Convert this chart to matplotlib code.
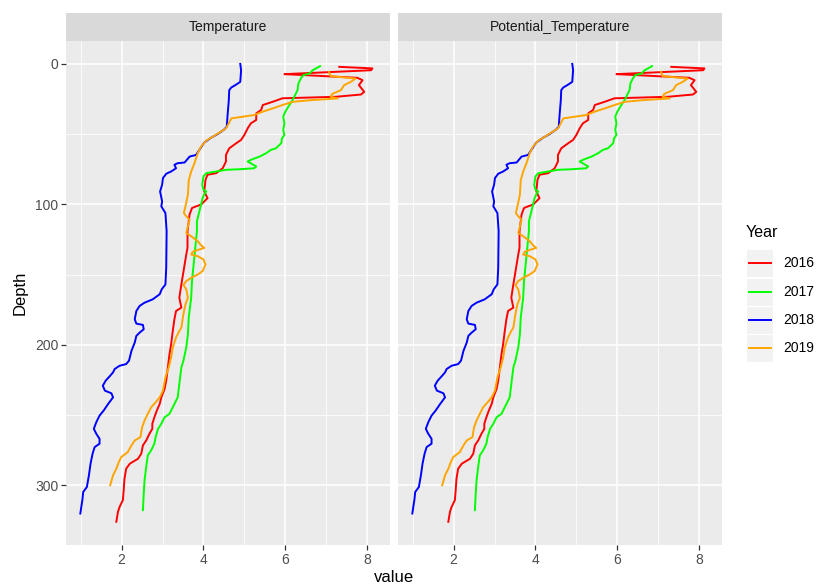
import matplotlib
matplotlib.use("Agg")
import matplotlib.pyplot as plt
from matplotlib.patches import Rectangle
from matplotlib.lines import Line2D

plt.rcParams["font.family"] = ["Liberation Sans", "DejaVu Sans"]

panels = ["Temperature", "Potential_Temperature"]
years = ["2016", "2017", "2018", "2019"]
colors = {"2016": "#FF0000", "2017": "#00FF00", "2018": "#0000FF", "2019": "#FFA500"}

# profiles: (value, depth) pairs, surface downward
depth_2016 = [2.1, 3.2, 4.5, 7.3, 7.8, 9.9, 11.6, 15.1, 19.9, 21.8, 23.4, 24.5, 27.0, 29.3,
              32.8, 35.2, 39.9, 42.3, 45.9, 50.6, 54.1, 56.5, 60.1, 64.8, 69.5, 74.3, 77.8,
              78.9, 82.5, 90.8, 95.6, 100.2, 101.4, 102.6, 107.3, 119.1, 131.0, 135.7, 142.8,
              149.9, 156.9, 166.5, 173.5, 175.9, 181.8, 190.1, 199.5, 206.6, 216.1, 225.5,
              231.4, 237.4, 242.1, 246.8, 251.6, 256.2, 259.8, 263.3, 268.1, 271.6, 277.5,
              281.1, 284.6, 288.2, 295.2, 303.5, 310.6, 315.4, 318.9, 326.0]
temp_2016 = [7.32, 8.13, 8.10, 5.98, 6.34, 7.76, 7.89, 7.80, 7.93, 7.85, 7.24, 5.93, 5.69, 5.45,
             5.41, 5.29, 5.29, 5.16, 5.08, 5.00, 4.92, 4.80, 4.63, 4.55, 4.55, 4.47, 4.31,
             4.10, 4.05, 4.02, 4.10, 3.94, 3.82, 3.72, 3.66, 3.61, 3.61, 3.58, 3.54,
             3.50, 3.46, 3.41, 3.46, 3.33, 3.29, 3.25, 3.21, 3.17, 3.13, 3.09,
             3.05, 2.97, 2.93, 2.86, 2.80, 2.75, 2.75, 2.68, 2.60, 2.52, 2.48,
             2.40, 2.20, 2.11, 2.07, 2.05, 2.03, 1.95, 1.91, 1.87]

depth_2017 = [1.6, 4.5, 6.9, 8.0, 10.4, 14.0, 18.7, 22.2, 25.7, 29.3, 34.0, 37.6, 42.3, 47.0,
              50.6, 53.0, 56.5, 60.1, 61.2, 63.6, 66.0, 68.3, 69.5, 73.0, 74.3, 75.0, 75.4,
              77.8, 80.1, 86.0, 89.6, 90.8, 92.7, 95.5, 100.2, 105.0, 112.1, 119.1, 131.0,
              142.8, 154.6, 166.5, 175.9, 180.6, 192.4, 201.9, 211.3, 216.1, 227.9, 237.4,
              242.1, 249.1, 251.6, 256.2, 259.8, 265.7, 270.4, 275.2, 278.7, 287.0, 296.5,
              305.9, 317.7]
temp_2017 = [6.85, 6.67, 6.59, 6.44, 6.38, 6.32, 6.30, 6.24, 6.18, 6.10, 6.00, 5.95, 5.98, 5.95,
             5.98, 5.92, 5.90, 5.77, 5.65, 5.53, 5.37, 5.16, 5.08, 5.29, 5.24, 4.88, 4.55,
             4.07, 4.00, 3.97, 4.00, 4.07, 4.02, 3.98, 3.94, 3.90, 3.84, 3.84, 3.80,
             3.76, 3.72, 3.70, 3.66, 3.64, 3.62, 3.58, 3.51, 3.46, 3.41, 3.37,
             3.29, 3.17, 3.05, 2.97, 2.89, 2.83, 2.80, 2.72, 2.64, 2.60, 2.56,
             2.54, 2.52]

depth_2018 = [0.0, 4.5, 12.8, 15.1, 16.8, 18.7, 25.7, 36.4, 44.7, 46.6, 49.9, 52.5, 56.0, 61.2,
              64.8, 66.0, 70.2, 70.7, 71.8, 74.3, 76.6, 78.2, 81.3, 86.0, 90.8, 97.9, 101.4,
              106.2, 119.1, 145.2, 157.0, 160.5, 164.0, 167.6, 170.0, 172.3, 175.9, 181.8,
              184.9, 185.8, 188.9, 191.3, 193.6, 198.4, 204.3, 211.3, 213.7, 214.9, 217.2,
              219.6, 222.0, 225.5, 229.1, 232.6, 234.5, 237.4, 242.1, 246.8, 250.4, 255.1,
              259.8, 263.3, 266.9, 270.4, 272.8, 277.5, 284.6, 292.9, 301.2, 304.8, 310.6,
              314.2, 320.1]
temp_2018 = [4.90, 4.92, 4.90, 4.78, 4.68, 4.63, 4.62, 4.59, 4.57, 4.51, 4.35, 4.19, 4.02, 3.90,
             3.82, 3.66, 3.54, 3.37, 3.29, 3.33, 3.21, 3.09, 3.01, 2.99, 2.94, 2.99, 2.97,
             3.07, 3.10, 3.09, 3.07, 2.98, 2.93, 2.76, 2.56, 2.44, 2.36, 2.32,
             2.36, 2.52, 2.54, 2.44, 2.36, 2.32, 2.24, 2.18, 2.11, 1.95, 1.83,
             1.79, 1.72, 1.61, 1.54, 1.59, 1.75, 1.79, 1.67, 1.56, 1.46, 1.38,
             1.32, 1.38, 1.46, 1.46, 1.34, 1.29, 1.24, 1.20, 1.15, 1.06, 1.04,
             1.02, 0.99]

depth_2019 = [5.7, 8.7, 10.4, 12.8, 15.1, 18.7, 21.3, 23.4, 24.6, 25.7, 27.0, 29.3, 31.7, 34.0,
              36.4, 37.6, 38.8, 42.3, 45.9, 48.9, 51.8, 54.6, 58.9, 63.6, 70.7, 76.6, 83.0,
              93.1, 101.4, 106.2, 108.5, 110.9, 115.6, 120.4, 122.7, 126.2, 129.1, 131.0,
              132.1, 133.7, 135.7, 136.9, 139.2, 142.8, 147.5, 149.9, 152.3, 154.6, 157.4,
              160.5, 166.5, 171.1, 178.2, 187.7, 190.1, 194.8, 201.9, 209.0, 216.1, 223.2,
              232.6, 237.4, 240.9, 244.5, 249.1, 253.9, 258.7, 265.7, 268.1, 271.6, 276.4,
              279.9, 283.5, 288.2, 292.9, 300.0]
temp_2019 = [7.07, 7.11, 7.72, 7.60, 7.44, 7.36, 7.15, 7.11, 7.28, 6.67, 6.18, 5.93, 5.69, 5.45,
             5.24, 4.96, 4.68, 4.62, 4.55, 4.39, 4.23, 4.07, 3.94, 3.86, 3.78, 3.70, 3.64,
             3.62, 3.56, 3.52, 3.58, 3.66, 3.62, 3.58, 3.70, 3.86, 3.94, 4.02,
             3.90, 3.74, 3.70, 3.86, 4.00, 4.05, 3.98, 3.86, 3.70, 3.58, 3.51,
             3.58, 3.62, 3.56, 3.51, 3.46, 3.41, 3.33, 3.25, 3.21, 3.15, 3.07,
             3.01, 2.93, 2.83, 2.72, 2.64, 2.56, 2.50, 2.46, 2.32, 2.24, 2.15,
             1.99, 1.93, 1.87, 1.79, 1.72]

profiles = {
    "2016": (temp_2016, depth_2016),
    "2017": (temp_2017, depth_2017),
    "2018": (temp_2018, depth_2018),
    "2019": (temp_2019, depth_2019),
}

W, H = 816, 585
fig = plt.figure(figsize=(W / 100, H / 100), dpi=100, facecolor="white")


def fx(px):
    return px / W


def fy(py):
    return 1 - py / H


panel_left = [66, 398]
panel_w = 324
top, bottom = 41, 545
strip_top = 13

axes = []
for i, name in enumerate(panels):
    ax = fig.add_axes([fx(panel_left[i]), fy(bottom), panel_w / W, (bottom - top) / H])
    ax.set_facecolor("#EBEBEB")
    for s in ax.spines.values():
        s.set_visible(False)
    ax.set_xlim(0.64, 8.56)
    ax.set_ylim(342.5, -16.3)
    ax.set_xticks([2, 4, 6, 8])
    ax.set_xticks([1, 3, 5, 7], minor=True)
    ax.set_yticks([0, 100, 200, 300])
    ax.set_yticks([50, 150, 250], minor=True)
    ax.grid(which="major", color="white", lw=1.1)
    ax.grid(which="minor", color="white", lw=0.55)
    ax.set_axisbelow(True)
    ax.tick_params(which="major", length=3.5, width=0.9, color="#333333",
                   labelcolor="#4D4D4D", labelsize=10, pad=2)
    ax.tick_params(which="minor", length=0)
    if i > 0:
        ax.tick_params(axis="y", which="both", left=False, labelleft=False)
    for yr in years:
        vals, dep = profiles[yr]
        ax.plot(vals, dep, color=colors[yr], lw=1.4, solid_joinstyle="round")

    # facet strip
    sax = fig.add_axes([fx(panel_left[i]), fy(top), panel_w / W, (top - strip_top) / H])
    sax.set_facecolor("#D9D9D9")
    sax.set_xticks([])
    sax.set_yticks([])
    for s in sax.spines.values():
        s.set_visible(False)
    sax.text(0.5, 0.5, name, ha="center", va="center", fontsize=10, color="#1A1A1A")
    axes.append(ax)

fig.text(fx(394), fy(577), "value", ha="center", va="center", fontsize=12, color="black")
fig.text(fx(20), fy(293), "Depth", ha="center", va="center", rotation=90, fontsize=12,
         color="black")

# legend
fig.text(fx(746), fy(233), "Year", ha="left", va="center", fontsize=11.5, color="black")
row_y = [263, 292, 320, 348]
for yr, ry in zip(years, row_y):
    fig.patches.append(Rectangle((fx(747), fy(ry + 13.5)), 26 / W, 27 / H,
                                 transform=fig.transFigure, facecolor="#F2F2F2",
                                 edgecolor="none"))
    fig.lines.append(Line2D([fx(749), fx(771)], [fy(ry), fy(ry)], transform=fig.transFigure,
                            color=colors[yr], lw=1.4))
    fig.text(fx(783), fy(ry), yr, ha="left", va="center", fontsize=10, color="black")

plt.savefig("out.png", dpi=100, facecolor="white")
